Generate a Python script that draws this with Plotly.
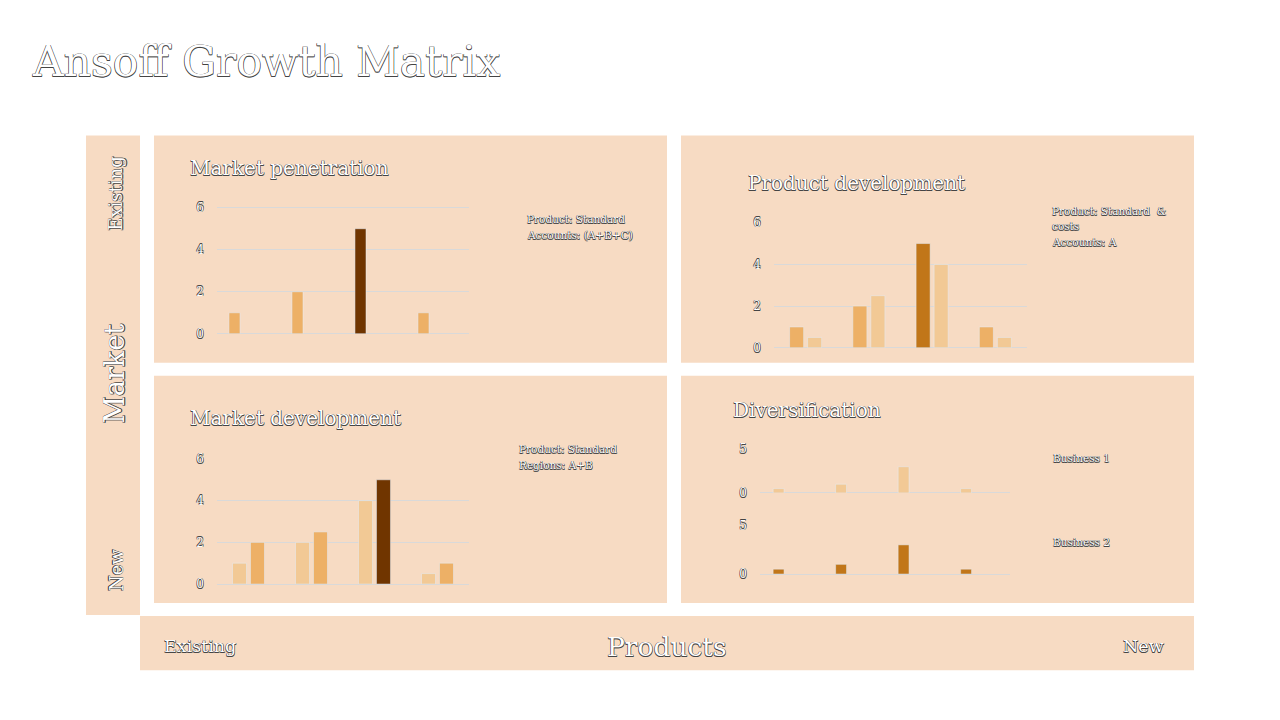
import plotly.graph_objects as go

# ---- data -------------------------------------------------------------
categories = ["A", "B", "C", "D"]

# Market penetration (single series)
pen_values = [1, 2, 5, 1]

# Product development (two series)
prod_dev_main = [1, 2, 5, 1]
prod_dev_cost = [0.5, 2.5, 4, 0.5]

# Market development (two series)
mkt_dev_a = [1, 2, 4, 0.5]
mkt_dev_b = [2, 2.5, 5, 1]

# Diversification (two small panels)
business_1 = [0.5, 1, 3, 0.5]
business_2 = [0.5, 1, 3, 0.5]

y_ticks_main = [0, 2, 4, 6]
y_ticks_div = [0, 5]

# ---- style ------------------------------------------------------------
W, H = 1280, 720
PANEL = "#F7DBC3"
ORANGE = "#EDB066"
LIGHT = "#F2C995"
BROWN = "#703500"
AMBER = "#C17619"
GRID = "#D9D9D9"
SERIF = "DejaVu Serif"
OUTLINE = ("-0.5px -0.5px 0 #444, 0.5px -0.5px 0 #444, "
           "-0.5px 0.5px 0 #444, 0.5px 0.5px 0 #444")

# the captured page comes out slightly squeezed vertically, so pixel
# positions measured on the target are mapped back before use
Y_SHIFT, Y_SCALE = 5.5, 0.981


def fx(x):
    return x / W


def fy(y):
    return 1 - ((y - Y_SHIFT) / Y_SCALE) / H


def outline_font(size, family=SERIF):
    return dict(family=family, size=size, color="white", shadow=OUTLINE)


def highlight(n, idx, base, hi):
    return [hi if i == idx else base for i in range(n)]


fig = go.Figure()

# Market penetration
fig.add_trace(go.Bar(x=categories, y=pen_values, xaxis="x", yaxis="y",
                     marker_color=highlight(4, 2, ORANGE, BROWN),
                     width=0.175, offset=-0.31))

# Product development
fig.add_trace(go.Bar(x=categories, y=prod_dev_main, xaxis="x2", yaxis="y2",
                     marker_color=highlight(4, 2, ORANGE, AMBER)))
fig.add_trace(go.Bar(x=categories, y=prod_dev_cost, xaxis="x2", yaxis="y2",
                     marker_color=LIGHT))

# Market development
fig.add_trace(go.Bar(x=categories, y=mkt_dev_a, xaxis="x3", yaxis="y3",
                     marker_color=LIGHT))
fig.add_trace(go.Bar(x=categories, y=mkt_dev_b, xaxis="x3", yaxis="y3",
                     marker_color=highlight(4, 2, ORANGE, BROWN)))

# Diversification
fig.add_trace(go.Bar(x=categories, y=business_1, xaxis="x4", yaxis="y4",
                     marker_color=LIGHT, width=0.175, offset=-0.29))
fig.add_trace(go.Bar(x=categories, y=business_2, xaxis="x5", yaxis="y5",
                     marker_color=AMBER, width=0.175, offset=-0.29))

# axes: (x0, x1, ytop, ybottom, ymax, ticks)
axes = [
    (217, 469, 205, 333, 6, y_ticks_main),
    (774, 1027, 220, 347, 6, y_ticks_main),
    (217, 469, 456, 583, 6, y_ticks_main),
    (760, 1010, 447, 492, 5, y_ticks_div),
    (760, 1010, 523, 573, 5, y_ticks_div),
]
layout_axes = {}
for i, (x0, x1, yt, yb, ymax, ticks) in enumerate(axes, start=1):
    sfx = "" if i == 1 else str(i)
    # a little headroom so the top gridline is not dropped at the range edge
    pad = ymax * 0.008
    layout_axes["xaxis" + sfx] = dict(
        domain=[fx(x0), fx(x1)], anchor="y" + sfx, showticklabels=False,
        showgrid=False, showline=False, zeroline=False, fixedrange=True)
    layout_axes["yaxis" + sfx] = dict(
        domain=[fy(yb), fy(yt + 1)], anchor="x" + sfx, range=[0, ymax + pad],
        tickvals=ticks, showgrid=True, gridcolor=GRID, gridwidth=1,
        zeroline=True, zerolinecolor=GRID, zerolinewidth=1, showline=False,
        ticks="", ticklabelstandoff=12, tickfont=outline_font(12),
        fixedrange=True)

# background panels
panels = [
    (86, 135, 140, 614),     # left band (Market)
    (154, 135, 667, 362),    # top-left
    (681, 135, 1194, 362),   # top-right
    (154, 375, 667, 602),    # bottom-left
    (681, 375, 1194, 602),   # bottom-right
    (140, 615, 1194, 669),   # bottom band (Products)
]
shapes = [dict(type="rect", xref="paper", yref="paper", layer="below",
               x0=fx(a), x1=fx(c), y0=fy(d), y1=fy(b),
               fillcolor=PANEL, line_width=0) for a, b, c, d in panels]


def note(text, x, y, size, xanchor="left", yanchor="middle", angle=0):
    return dict(text=text, x=fx(x), y=fy(y), xref="paper", yref="paper",
                xanchor=xanchor, yanchor=yanchor, showarrow=False,
                textangle=angle, align="left", font=outline_font(size))


def note_lines(lines, x, y_first, step=16.5, size=10.5):
    return [note(t, x, y_first + k * step, size) for k, t in enumerate(lines)]


annotations = [
    note("Ansoff Growth Matrix", 30, 61, 42.5),
    note("Market penetration", 188, 167, 20),
    note("Product development", 746, 182, 20),
    note("Market development", 188, 417, 20),
    note("Diversification", 731, 409, 20),
    note("Business 1", 1051, 457, 10.5),
    note("Business 2", 1051, 541, 10.5),
    note("Existing", 116, 193, 18, xanchor="center", angle=-90),
    note("Market", 115, 373, 27, xanchor="center", angle=-90),
    note("New", 116, 569, 18, xanchor="center", angle=-90),
    note("Existing", 162, 645, 17.5),
    note("Products", 667, 645, 26.5, xanchor="center"),
    note("New", 1166, 645, 17.5, xanchor="right"),
]
annotations += note_lines(["Product: Standard", "Accounts: (A+B+C)"], 525, 218)
annotations += note_lines(["Product: Standard  &", "costs", "Accounts: A"],
                          1050, 210, step=15.5)
annotations += note_lines(["Product: Standard", "Regions: A+B"], 517, 448)

fig.update_layout(
    width=W, height=H, margin=dict(l=0, r=0, t=0, b=0),
    paper_bgcolor="white", plot_bgcolor="rgba(0,0,0,0)",
    barmode="group", bargap=0.43, bargroupgap=0.22, showlegend=False,
    shapes=shapes, annotations=annotations, **layout_axes)

fig.write_html("out.html", config={"displayModeBar": False},
               post_script="document.body.style.margin='0';"
                           "document.body.style.overflow='hidden';")
